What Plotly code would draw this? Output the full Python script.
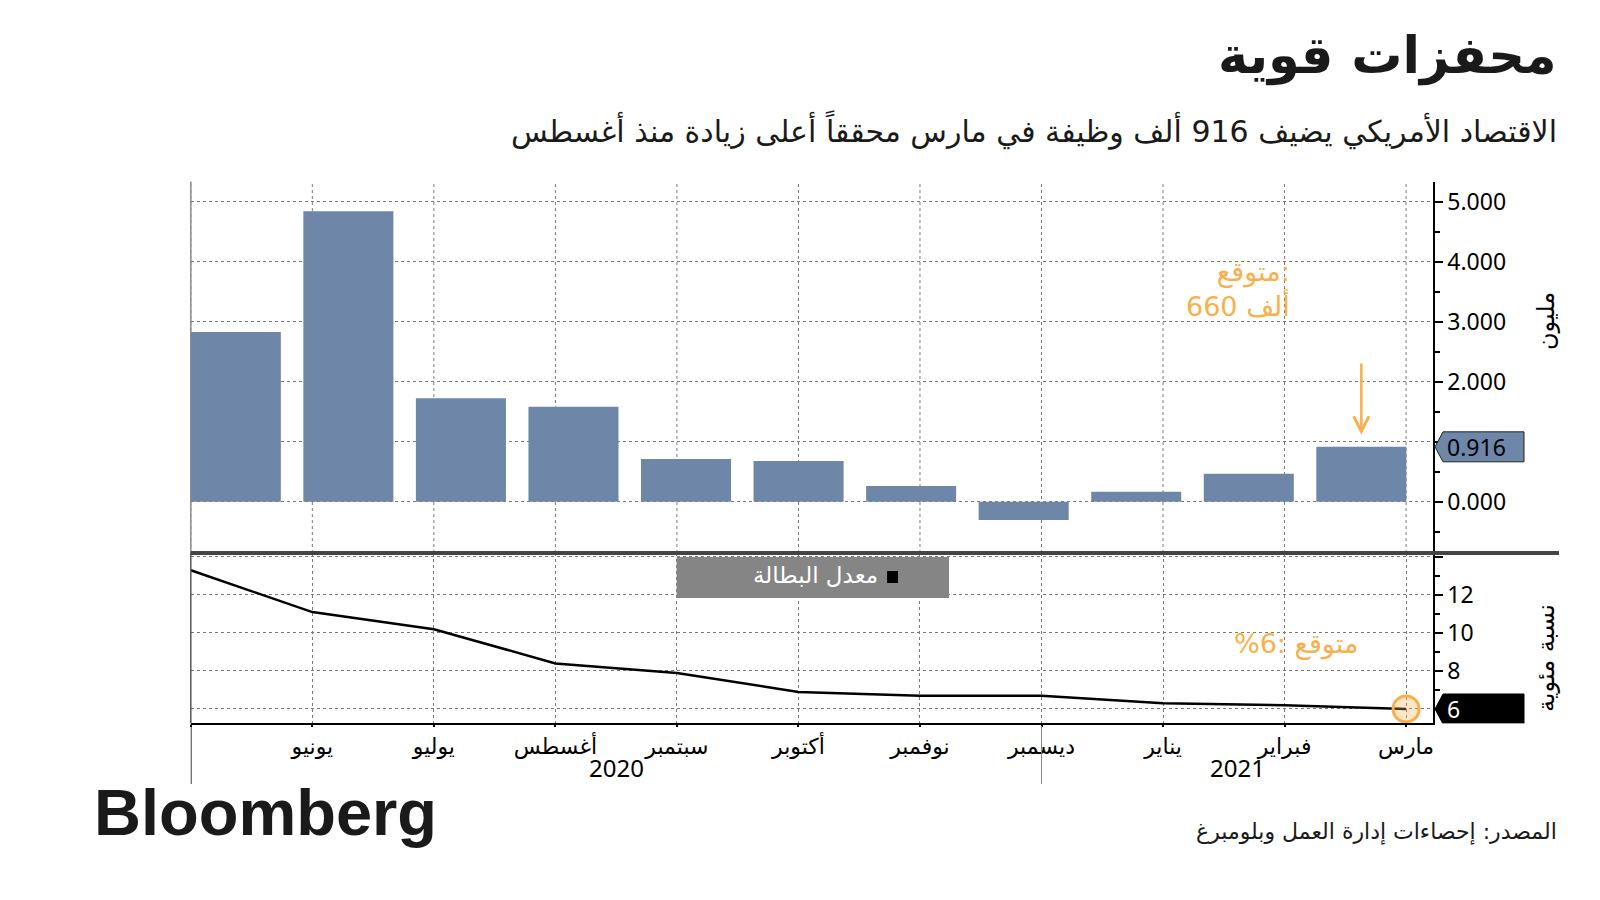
import plotly.graph_objects as go

# ---------------- data ----------------
months = ["مايو", "يونيو", "يوليو", "أغسطس", "سبتمبر", "أكتوبر",
          "نوفمبر", "ديسمبر", "يناير", "فبراير", "مارس"]
month_labels = ["", "يونيو", "يوليو", "أغسطس", "سبتمبر", "أكتوبر",
                "نوفمبر", "ديسمبر", "يناير", "فبراير", "مارس"]
payrolls = [2.833, 4.846, 1.726, 1.583, 0.711, 0.680, 0.264, -0.306, 0.166, 0.468, 0.916]
unemployment = [13.3, 11.1, 10.2, 8.4, 7.9, 6.9, 6.7, 6.7, 6.3, 6.2, 6.0]
years = ["2020", "2021"]
year_boundary_month = "ديسمبر"
payroll_tickvals = [0, 1, 2, 3, 4, 5]
payroll_ticktext = ["0.000", "", "2.000", "3.000", "4.000", "5.000"]
unemp_tickvals = [6, 8, 10, 12, 14]
unemp_ticktext = ["", "8", "10", "12", ""]

idx = list(range(len(months)))

# ---------------- geometry helpers (screen px -> paper) ----------------
W, H = 1584, 884
OFF = 8  # default body margin of the html page


def px(X):
    return (X - OFF) / W


def py(Y):
    return 1 - (Y - OFF) / H


X_L, X_R = 190.8, 1432.7
Y_T, Y_S, Y_B = 181.6, 553.0, 723.3

BAR = "#6E87A9"
ORANGE = "#F7B04A"
GRID = "#7a7a7a"
AR_FONT = "DejaVu Sans"
NUM_FONT = "Noto Sans"

fig = go.Figure()

fig.add_trace(go.Bar(x=idx, y=payrolls, xaxis="x", yaxis="y",
                     marker=dict(color=BAR, line=dict(width=0)),
                     width=0.8, showlegend=False, hoverinfo="skip"))

fig.add_trace(go.Scatter(x=idx, y=unemployment, xaxis="x2", yaxis="y2",
                         mode="lines", line=dict(color="black", width=2.5),
                         showlegend=False, hoverinfo="skip"))

fig.add_trace(go.Scatter(x=[idx[-1]], y=[unemployment[-1]], xaxis="x2", yaxis="y2",
                         mode="markers",
                         marker=dict(size=26, color="rgba(247,176,74,0.3)",
                                     line=dict(color=ORANGE, width=3)),
                         showlegend=False, hoverinfo="skip"))

grid_common = dict(gridcolor=GRID, griddash="dot", gridwidth=1)

fig.update_layout(
    width=W, height=H, autosize=False,
    margin=dict(l=0, r=0, t=0, b=0),
    paper_bgcolor="white", plot_bgcolor="white",
    font=dict(family=NUM_FONT, color="black"),
    xaxis=dict(domain=[px(X_L), px(X_R)], anchor="y",
               range=[-0.4, 10.634], visible=False),
    yaxis=dict(domain=[py(Y_S), py(Y_T)], anchor="x", side="right",
               range=[-0.855, 5.34], tickvals=payroll_tickvals,
               ticktext=payroll_ticktext, showgrid=True, **grid_common,
               zeroline=False, showline=True, linecolor="black", linewidth=2,
               ticks="outside", ticklen=8, tickwidth=2, tickcolor="black",
               minor=dict(dtick=0.5, ticks="outside", ticklen=5, tickcolor="black",
                          showgrid=False),
               tickfont=dict(family=NUM_FONT, size=23, color="black")),
    xaxis2=dict(domain=[px(X_L), px(X_R)], anchor="y2",
                range=[0, 10.219], tickmode="array", tickvals=idx,
                ticktext=month_labels, showgrid=True, **grid_common,
                zeroline=False, showline=True, linecolor="black", linewidth=2,
                ticks="outside", ticklen=2, tickcolor="black", tickwidth=1.5,
                tickfont=dict(family=AR_FONT, size=22, color="black")),
    yaxis2=dict(domain=[py(Y_B), py(Y_S)], anchor="x2", side="right",
                range=[5.247, 14.21], tickvals=unemp_tickvals,
                ticktext=unemp_ticktext, showgrid=True, **grid_common,
                zeroline=False, showline=True, linecolor="black", linewidth=2,
                ticks="outside", ticklen=8, tickwidth=2, tickcolor="black",
                minor=dict(dtick=1, ticks="outside", ticklen=5, tickcolor="black",
                           showgrid=False),
                tickfont=dict(family=NUM_FONT, size=23, color="black")),
)

shapes = []
# vertical month gridlines in the top panel
for i in idx:
    shapes.append(dict(type="line", xref="x2", yref="paper", x0=i, x1=i,
                       y0=py(Y_S), y1=py(Y_T), layer="below",
                       line=dict(color=GRID, width=1, dash="dot")))
# left edges
shapes.append(dict(type="line", xref="paper", yref="paper", x0=px(X_L), x1=px(X_L),
                   y0=py(Y_S), y1=py(Y_T), layer="below",
                   line=dict(color="#8a8a8a", width=1.5)))
shapes.append(dict(type="line", xref="paper", yref="paper", x0=px(X_L), x1=px(X_L),
                   y0=py(Y_B), y1=py(Y_S), layer="above",
                   line=dict(color="#555", width=1.5)))
# separator between panels
shapes.append(dict(type="line", xref="paper", yref="paper", x0=px(X_L), x1=px(1559),
                   y0=py(Y_S), y1=py(Y_S), layer="above",
                   line=dict(color="#444", width=4)))
# year separators below axis
bidx = months.index(year_boundary_month)
shapes.append(dict(type="line", xref="x2", yref="paper", x0=0, x1=0,
                   y0=py(784), y1=py(Y_B), line=dict(color="black", width=1.5)))
shapes.append(dict(type="line", xref="x2", yref="paper", x0=bidx, x1=bidx,
                   y0=py(784), y1=py(726), line=dict(color="#888", width=1)))

# value tags on right axes
tip, sh, rt = px(1435), px(1443), px(1524)
v = payrolls[-1]
h = 15 / 60
shapes.append(dict(type="path", xref="paper", yref="y",
                   path=f"M {tip},{v} L {sh},{v + h} L {rt},{v + h} L {rt},{v - h} L {sh},{v - h} Z",
                   fillcolor=BAR, line=dict(color="#222", width=1)))
u = unemployment[-1]
h2 = 15 / 19
shapes.append(dict(type="path", xref="paper", yref="y2",
                   path=f"M {tip},{u} L {sh},{u + h2} L {rt},{u + h2} L {rt},{u - h2} L {sh},{u - h2} Z",
                   fillcolor="black", line=dict(color="black", width=1)))

# legend box
shapes.append(dict(type="rect", xref="paper", yref="paper",
                   x0=px(676.6), x1=px(949), y0=py(598), y1=py(557),
                   fillcolor="#858585", line=dict(width=0)))
shapes.append(dict(type="rect", xref="paper", yref="paper",
                   x0=px(887), x1=px(898), y0=py(583), y1=py(571),
                   fillcolor="black", line=dict(width=0)))

fig.update_layout(shapes=shapes)

ann = []
# title / subtitle
ann.append(dict(text="<b>محفزات قوية</b>", xref="paper", yref="paper",
                x=px(1559), y=py(56), xanchor="right", yanchor="middle",
                showarrow=False, font=dict(family=AR_FONT, size=51, color="#1a1a1a")))
ann.append(dict(text="الاقتصاد الأمريكي يضيف 916 ألف وظيفة في مارس محققاً أعلى زيادة منذ أغسطس",
                xref="paper", yref="paper", x=px(1559), y=py(130),
                xanchor="right", yanchor="middle", showarrow=False,
                font=dict(family=AR_FONT, size=30, color="#1a1a1a")))
# axis titles
ann.append(dict(text="مليون", xref="paper", yref="paper", x=px(1546), y=py(321),
                xanchor="center", yanchor="middle", textangle=-90, showarrow=False,
                font=dict(family=AR_FONT, size=24, color="black")))
ann.append(dict(text="نسبة مئوية", xref="paper", yref="paper", x=px(1546), y=py(658),
                xanchor="center", yanchor="middle", textangle=-90, showarrow=False,
                font=dict(family=AR_FONT, size=24, color="black")))
# tag labels
ann.append(dict(text=f"{payrolls[-1]:.3f}", xref="paper", yref="y", x=px(1445), y=payrolls[-1],
                xanchor="left", yanchor="middle", showarrow=False,
                font=dict(family=NUM_FONT, size=23, color="black")))
ann.append(dict(text=f"{unemployment[-1]:g}", xref="paper", yref="y2", x=px(1445), y=unemployment[-1],
                xanchor="left", yanchor="middle", showarrow=False,
                font=dict(family=NUM_FONT, size=23, color="white")))
# legend text
ann.append(dict(text="معدل البطالة", xref="paper", yref="paper", x=px(880), y=py(575),
                xanchor="right", yanchor="middle", showarrow=False,
                font=dict(family=AR_FONT, size=23, color="white")))
# forecast annotations
ann.append(dict(text="متوقع:<br>660 ألف", xref="paper", yref="paper",
                x=px(1292), y=py(289), xanchor="right", yanchor="middle", align="right",
                showarrow=False, font=dict(family=AR_FONT, size=27, color=ORANGE)))
ann.append(dict(text="", x=idx[-1], y=payrolls[-1] + 0.2, xref="x", yref="y",
                ax=idx[-1], ay=2.33, axref="x", ayref="y", showarrow=True,
                arrowhead=5, arrowsize=1.2, arrowwidth=2.5, arrowcolor=ORANGE))
ann.append(dict(text="%6: متوقع", xref="paper", yref="paper", x=px(1360), y=py(644),
                xanchor="right", yanchor="middle", showarrow=False,
                font=dict(family=AR_FONT, size=27, color=ORANGE)))
# year labels
ann.append(dict(text=years[0], xref="x2", yref="paper", x=(idx[0] + bidx) / 2, y=py(767),
                xanchor="center", yanchor="middle", showarrow=False,
                font=dict(family=NUM_FONT, size=24, color="black")))
ann.append(dict(text=years[1], xref="x2", yref="paper", x=(bidx + 10.219) / 2, y=py(767),
                xanchor="center", yanchor="middle", showarrow=False,
                font=dict(family=NUM_FONT, size=24, color="black")))
# footer
ann.append(dict(text="<b>Bloomberg</b>", xref="paper", yref="paper", x=px(92), y=py(812),
                xanchor="left", yanchor="middle", showarrow=False,
                font=dict(family="Liberation Sans", size=65, color="#1a1a1a")))
ann.append(dict(text="المصدر: إحصاءات إدارة العمل وبلومبرغ", xref="paper", yref="paper",
                x=px(1559), y=py(832), xanchor="right", yanchor="middle", showarrow=False,
                font=dict(family=AR_FONT, size=22, color="#1a1a1a")))

fig.update_layout(annotations=ann)

fig.write_html("out.html")
